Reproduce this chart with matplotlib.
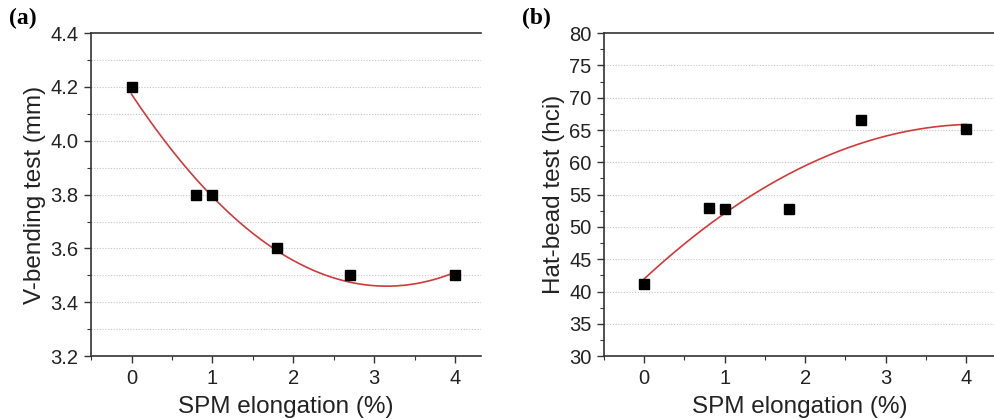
import matplotlib
matplotlib.use("Agg")
import matplotlib.pyplot as plt
import numpy as np
from matplotlib.ticker import MultipleLocator

plt.rcParams["font.family"] = ["Liberation Sans", "DejaVu Sans"]

# SPM elongation (%) for both panels
elong = [0.0, 0.8, 1.0, 1.8, 2.7, 4.0]
# (a) V-bending test (mm)
vbend = [4.20, 3.80, 3.80, 3.60, 3.50, 3.50]
# (b) Hat-bead test (hci)
hatbead = [41.1, 53.0, 52.8, 52.8, 66.5, 65.2]

fig = plt.figure(figsize=(9.95, 4.19), dpi=100)
ax_a = fig.add_axes([0.0915, 0.150, 0.392, 0.771])
ax_b = fig.add_axes([0.607, 0.150, 0.393, 0.771])

panels = [
    (ax_a, vbend, "V-bending test (mm)", (3.2, 4.4), 0.2, 0.1, 4.32, "(a)", "{:.1f}"),
    (ax_b, hatbead, "Hat-bead test (hci)", (30, 80), 5, 2.5, 4.36, "(b)", "{:.0f}"),
]

for ax, yvals, ylabel, ylim, major, minor, xmax, tag, fmt in panels:
    x = np.asarray(elong)
    y = np.asarray(yvals)
    # second-order polynomial fit drawn as in the original figure
    coef = np.polyfit(x, y, 2)
    xs = np.linspace(x.min(), x.max(), 200)
    ax.plot(xs, np.polyval(coef, xs), color="#d03a3a", lw=1.2, zorder=2)
    ax.plot(x, y, "s", color="black", ms=7.5, zorder=3)

    ax.set_xlim(-0.5, xmax)
    ax.set_ylim(*ylim)
    ax.xaxis.set_major_locator(MultipleLocator(1))
    ax.xaxis.set_minor_locator(MultipleLocator(0.5))
    ax.yaxis.set_major_locator(MultipleLocator(major))
    ax.yaxis.set_minor_locator(MultipleLocator(minor))
    ax.yaxis.set_major_formatter(matplotlib.ticker.FuncFormatter(lambda v, p, f=fmt: f.format(v)))

    # dotted horizontal grid
    gstep = 0.1 if major < 1 else 5
    for g in np.arange(ylim[0] + gstep, ylim[1] - gstep / 2, gstep):
        ax.axhline(g, color="#c4c4c4", ls=(0, (1, 1.5)), lw=0.8, zorder=1)

    ax.tick_params(which="major", direction="out", length=5, width=1.0,
                   labelsize=14.5, color="#333333", labelcolor="#222222", pad=4)
    ax.tick_params(which="minor", direction="out", length=3, width=0.8, color="#333333")
    ax.spines["right"].set_visible(False)
    for s in ("left", "bottom", "top"):
        ax.spines[s].set_linewidth(1.2)
        ax.spines[s].set_color("#333333")

    ax.set_xlabel("SPM elongation (%)", fontsize=17.5, color="#222222", labelpad=6)
    ax.set_ylabel(ylabel, fontsize=17.5, color="#222222", labelpad=3)

    ax.text(-0.21, 1.045, tag, transform=ax.transAxes, fontsize=17,
            fontweight="bold", family=["Liberation Serif", "DejaVu Serif"],
            ha="left", va="center")

fig.savefig("out.png", dpi=100)
